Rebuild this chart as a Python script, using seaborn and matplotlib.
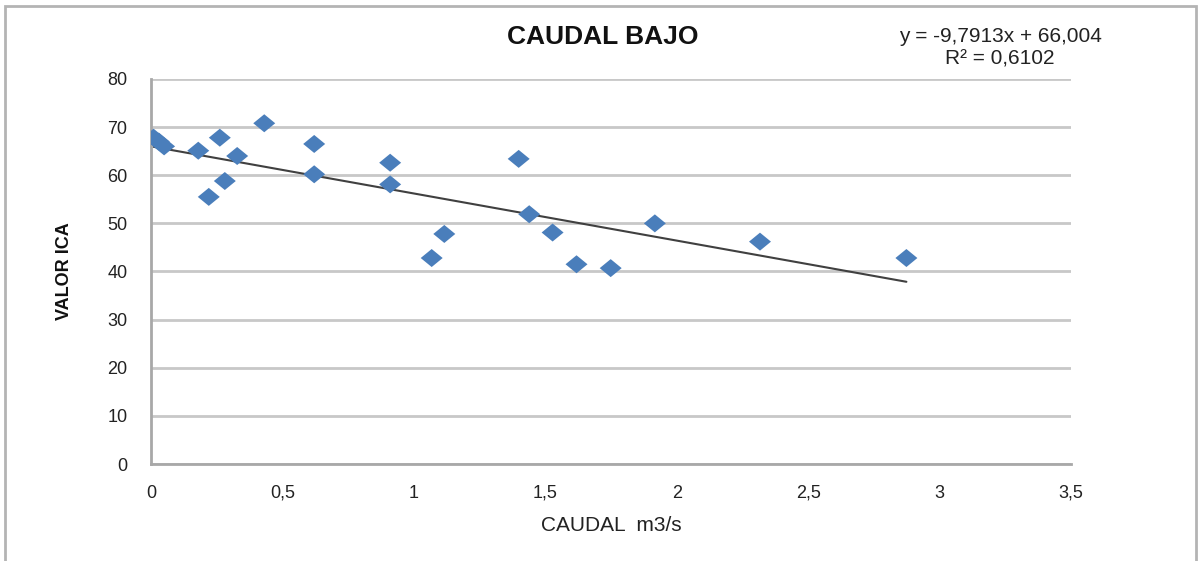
import numpy as np
import pandas as pd
import matplotlib
matplotlib.use("Agg")
import matplotlib.pyplot as plt
from matplotlib.patches import Rectangle
import seaborn as sns

# caudal (m3/s) and valor ICA
caudal = [0.01, 0.03, 0.05, 0.18, 0.22, 0.262, 0.281, 0.328, 0.431, 0.621, 0.621,
          0.910, 0.910, 1.068, 1.116, 1.399, 1.439, 1.528, 1.619, 1.749, 1.917,
          2.317, 2.874]
ica = [67.8, 67.0, 66.0, 65.1, 55.5, 67.8, 58.8, 64.0, 70.8, 66.5, 60.2,
       62.6, 58.1, 42.8, 47.8, 63.4, 51.9, 48.1, 41.5, 40.7, 50.0,
       46.2, 42.8]

# linear trend as printed on the chart
slope = -9.7913
intercept = 66.004
r2_text = "0,6102"

xticks = [0, 0.5, 1, 1.5, 2, 2.5, 3, 3.5]
xtick_labels = ["0", "0,5", "1", "1,5", "2", "2,5", "3", "3,5"]
yticks = [0, 10, 20, 30, 40, 50, 60, 70, 80]

df = pd.DataFrame({"caudal": caudal, "ica": ica})
trend_x = np.array([min(caudal), max(caudal)])
trend = pd.DataFrame({"caudal": trend_x, "ica": slope * trend_x + intercept})

sns.set_style("white")
plt.rcParams['font.family'] = ['Liberation Sans', 'DejaVu Sans']

fig = plt.figure(figsize=(11.99, 5.61), dpi=100)
ax = fig.add_axes([0.1259, 0.1729, 0.7673, 0.6863])

# outer chart border (bottom edge cut off in the reference)
fig.patches.append(Rectangle((5 / 1199, -0.05), 1191 / 1199, 0.05 + 1 - 6 / 561,
                             transform=fig.transFigure, fill=False,
                             edgecolor="#b4b4b4", linewidth=2))

diamond = [(-1, 0), (0, 0.82), (1, 0), (0, -0.82), (-1, 0)]
sns.lineplot(data=trend, x="caudal", y="ica", ax=ax, color="#404040", linewidth=1.5)
sns.scatterplot(data=df, x="caudal", y="ica", ax=ax, marker=diamond, s=250,
                color="#4a7ebb", edgecolor="none", zorder=3)

ax.set_xlim(0, 3.5)
ax.set_ylim(0, 80)
ax.set_xticks(xticks)
ax.set_xticklabels(xtick_labels)
ax.set_yticks(yticks)
ax.yaxis.grid(True, color="#c8c8c8", linewidth=2)
ax.xaxis.grid(False)
ax.tick_params(length=0, labelsize=13, colors="#222222")
ax.tick_params(axis="y", pad=17)
ax.tick_params(axis="x", pad=15)

for side in ["top", "right"]:
    ax.spines[side].set_visible(False)
ax.spines["left"].set_color("#a8a8a8")
ax.spines["left"].set_linewidth(2)
ax.spines["bottom"].set_color("#a8a8a8")
ax.spines["bottom"].set_linewidth(2)

ax.set_xlabel("CAUDAL  m3/s", fontsize=15, color="#222222")
ax.set_ylabel("VALOR ICA", fontsize=13, fontweight="bold", color="#111111")
ax.xaxis.set_label_coords(0.5, -0.135)
ax.yaxis.set_label_coords(-0.085, 0.5)

fig.text(603 / 1199, 1 - 37 / 561, "CAUDAL BAJO", ha="center", va="center",
         fontsize=19, fontweight="bold", color="#111111")
eq = "y = %sx + %s\nR² = %s" % (str(slope).replace(".", ","),
                                 "{:.3f}".format(intercept).replace(".", ","), r2_text)
fig.text(1000 / 1199, 1 - 48 / 561, eq, ha="center", va="center",
         fontsize=15, color="#222222", linespacing=1.2)

fig.savefig("out.png", dpi=100)
